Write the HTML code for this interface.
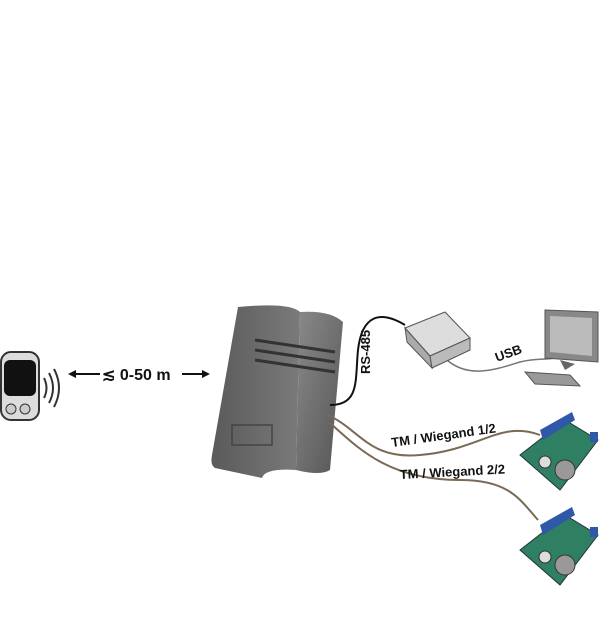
<!DOCTYPE html>
<html><head><style>html,body{margin:0;padding:0;background:#fff}svg{display:block}</style></head>
<body>
<svg width="600" height="642" viewBox="0 0 600 642" xmlns="http://www.w3.org/2000/svg" font-family="Liberation Sans, sans-serif" font-weight="bold">
<defs>
<linearGradient id="g1" x1="0" y1="0" x2="1" y2="0"><stop offset="0" stop-color="#5a5a5a"/><stop offset="1" stop-color="#7a7a7a"/></linearGradient>
<linearGradient id="g2" x1="0" y1="0" x2="1" y2="1"><stop offset="0" stop-color="#8a8a8a"/><stop offset="1" stop-color="#555"/></linearGradient>
</defs>
<rect x="1" y="352" width="38" height="68" rx="10" fill="#ddd" stroke="#333" stroke-width="2"/>
<rect x="4" y="360" width="32" height="36" rx="6" fill="#111"/>
<circle cx="11" cy="409" r="5" fill="#ccc" stroke="#333"/><circle cx="25" cy="409" r="5" fill="#ccc" stroke="#333"/>
<path d="M44 378 q5 10 0 20 M49 373 q8 15 0 30 M54 369 q10 19 0 38" stroke="#333" stroke-width="2" fill="none"/>
<path d="M70 374 H100 M182 374 H208" stroke="#111" stroke-width="2"/>
<path d="M68 374 l8 -4 v8z M210 374 l-8 -4 v8z" fill="#111"/>
<text x="102" y="380" font-size="16" fill="#111">≲ 0-50 m</text>
<path d="M238 307 Q290 302 300 312 L296 470 Q265 468 262 478 L215 468 Q210 465 212 455 Z" fill="url(#g1)"/>
<path d="M300 312 Q330 310 343 322 L330 470 Q320 476 296 470 Z" fill="url(#g2)"/>
<path d="M232 425 H272 V445 H232 Z" fill="none" stroke="#444" stroke-width="1.5"/>
<path d="M255 340 L335 352 M255 350 L335 362 M255 360 L335 372" stroke="#333" stroke-width="3"/>
<path d="M330 405 C360 405 355 380 358 350 C362 315 380 310 405 325" stroke="#111" stroke-width="2" fill="none"/>
<path d="M447 360 C470 380 500 368 520 362 C535 358 545 360 555 358" stroke="#777" stroke-width="1.5" fill="none"/>
<path d="M328 415 C360 430 370 460 420 455 C480 450 500 420 540 435" stroke="#7a6a55" stroke-width="2" fill="none"/>
<path d="M330 423 C360 450 390 480 460 480 C510 480 520 500 538 520" stroke="#7a6a55" stroke-width="2" fill="none"/>
<path d="M405 328 L445 312 L470 338 L430 356 Z" fill="#ddd" stroke="#555"/>
<path d="M405 328 L430 356 L432 368 L407 342 Z" fill="#aaa" stroke="#555"/>
<path d="M430 356 L470 338 L470 350 L432 368 Z" fill="#bbb" stroke="#555"/>
<path d="M545 310 L598 312 L598 362 L545 358 Z" fill="#888" stroke="#555"/>
<path d="M550 316 L592 318 L592 356 L550 352 Z" fill="#bbb"/>
<path d="M560 360 L575 364 L565 370 Z" fill="#666"/>
<path d="M525 372 L570 375 L580 386 L535 384 Z" fill="#999" stroke="#555"/>
<g id="b"><path d="M520 455 L565 420 L598 440 L560 490 Z" fill="#2f7f63" stroke="#234"/>
<path d="M540 430 L572 412 L575 420 L543 440 Z" fill="#3058a8"/>
<circle cx="565" cy="470" r="10" fill="#999" stroke="#333"/><circle cx="545" cy="462" r="6" fill="#ddd" stroke="#333"/>
<rect x="590" y="432" width="8" height="10" fill="#3058a8"/></g>
<use href="#b" transform="translate(0,95)"/>
<text x="0" y="0" font-size="13" fill="#111" transform="translate(370 374) rotate(-90)">RS-485</text>
<text x="0" y="0" font-size="13" fill="#111" transform="translate(497 362) rotate(-20)">USB</text>
<text x="0" y="0" font-size="13" fill="#111" transform="translate(392 447) rotate(-8)">TM / Wiegand 1/2</text>
<text x="0" y="0" font-size="13" fill="#111" transform="translate(400 479) rotate(-3)">TM / Wiegand 2/2</text>
</svg>
</body></html>
